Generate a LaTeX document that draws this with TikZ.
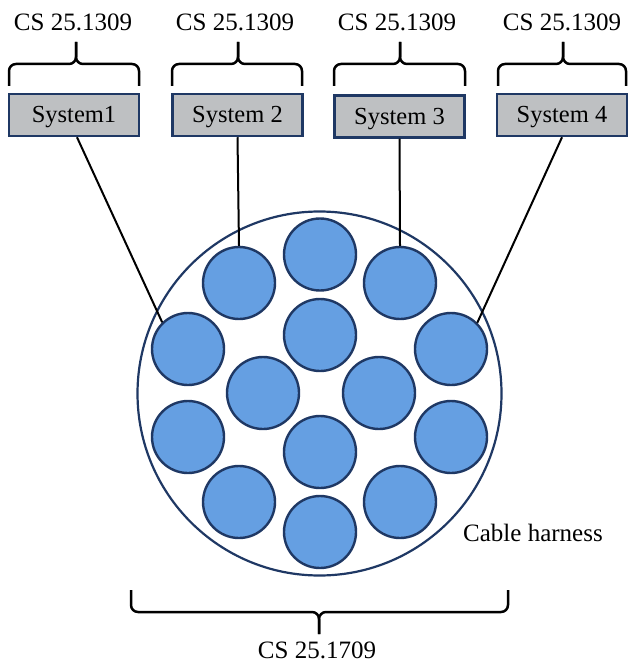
\documentclass[tikz,border=0pt]{standalone}
\usepackage{fontspec}
\setmainfont{Liberation Serif}
\definecolor{navy}{HTML}{1F3864}
\definecolor{boxgray}{HTML}{BEC0C2}
\definecolor{wireblue}{HTML}{659FE2}
\begin{document}
\begin{tikzpicture}[x=1pt,y=-1pt,
  lbl/.style={font=\fontsize{25}{30}\selectfont, inner sep=0pt, anchor=base},
  sysbox/.style={draw=navy, line width=2.5pt, fill=boxgray, minimum width=130pt, minimum height=42pt, inner sep=0pt, text height=17pt, text depth=1pt, font=\fontsize{24.5}{30}\selectfont},
  wire/.style={circle, draw=navy, line width=2.4pt, fill=wireblue, minimum size=72pt, inner sep=0pt},
  harness/.style={circle, draw=navy, line width=2.2pt, minimum size=364pt, inner sep=0pt},
  conn/.style={line width=2pt, black},
  brace/.style={line width=2.5pt, black, rounded corners=7pt, line cap=butt}
]
\useasboundingbox (0,0) rectangle (628,668);
% harness
\node[harness] (hn) at (319.5,393.5) {};
% wires
\node[wire] (c1) at (320,254.5) {};
\node[wire] (c2) at (320,335) {};
\node[wire] (c3) at (320,452) {};
\node[wire] (c4) at (320,532) {};
\node[wire] (c5) at (239,283) {};
\node[wire] (c6) at (400,283) {};
\node[wire] (c7) at (188,349) {};
\node[wire] (c8) at (451,349) {};
\node[wire] (c9) at (263,393) {};
\node[wire] (c10) at (379,393) {};
\node[wire] (c11) at (188,437) {};
\node[wire] (c12) at (451,437) {};
\node[wire] (c13) at (239,502) {};
\node[wire] (c14) at (400,502) {};
% system boxes
\node[sysbox] (s1) at (74,115) {System1};
\node[sysbox] (s2) at (237.5,115) {System 2};
\node[sysbox] (s3) at (399.5,116.5) {System 3};
\node[sysbox] (s4) at (562,115) {System 4};
% labels
\node[lbl] (l1) at (73,31) {CS 25.1309};
\node[lbl] (l2) at (235,31) {CS 25.1309};
\node[lbl] (l3) at (397,31) {CS 25.1309};
\node[lbl] (l4) at (562,31) {CS 25.1309};
\node[lbl] (lb) at (317,658) {CS 25.1709};
\node[lbl, anchor=base west] (lh) at (463,541) {Cable harness};
% connectors
\coordinate (s1o) at ([xshift=3pt]s1.south);
\draw[conn] (s1o) -- (c7.134);
\draw[conn] (s2.south) -- (c5.north);
\draw[conn] (s3.south) -- (c6.north);
\draw[conn] (s4.south) -- (c8.45);
% braces (top)
\foreach \xa/\xc/\xb in {9/76/139, 172/238/302, 334/400/465, 498/563/626} {
  \draw[brace] (\xa,86) -- (\xa,64) -- (\xc,64) -- (\xc,42);
  \draw[brace] (\xb,86) -- (\xb,64) -- (\xc,64) -- (\xc,42);
}
% brace (bottom)
\draw[brace] (131,590) -- (131,612) -- (319,612) -- (319,634);
\draw[brace] (508,590) -- (508,612) -- (319,612) -- (319,634);
\end{tikzpicture}
\end{document}
